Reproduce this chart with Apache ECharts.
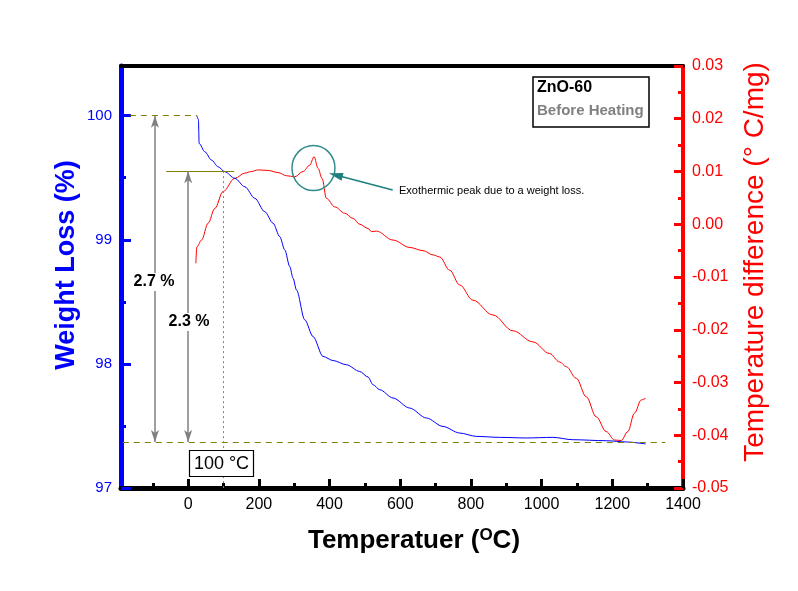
<!DOCTYPE html>
<html><head><meta charset="utf-8">
<script src="https://cdn.jsdelivr.net/npm/echarts@6/dist/echarts.min.js"></script>
<style>html,body{margin:0;padding:0;background:#fff}#c{width:798px;height:591px}</style>
</head><body><div id="c"></div>
<script>
// Weight loss (TGA) curve
const tgaTemp   = [24.6, 29, 31.1, 47.2, 66.2, 84.8, 103.8, 132.0, 160.3, 188.6, 216.8, 240.3, 259.2, 273.4, 287.5, 296.8, 306.4, 329.9, 353.4, 381.6, 409.9, 447.8, 485.4, 508.9, 523.0, 541.9, 579.5, 626.8, 674.0, 720.9, 768.1, 815.3, 881.2, 956.7, 1031.9, 1088.4, 1182.8, 1239.4, 1293.9];
const tgaWeight = [100.0, 99.97, 99.776, 99.709, 99.642, 99.588, 99.548, 99.495, 99.427, 99.334, 99.226, 99.133, 99.025, 98.918, 98.784, 98.690, 98.596, 98.355, 98.220, 98.060, 98.027, 97.993, 97.939, 97.894, 97.832, 97.792, 97.725, 97.644, 97.564, 97.496, 97.443, 97.416, 97.408, 97.403, 97.408, 97.389, 97.381, 97.371, 97.355];
// Temperature difference (DTA) curve
const dtaTemp = [21.8, 24.6, 37.9, 56.5, 75.5, 98.9, 132.0, 160.3, 179.2, 197.9, 226.2, 254.4, 278.2, 301.6, 325.1, 344.0, 356.2, 367.5, 378.8, 391.3, 414.7, 443.0, 466.5, 485.4, 508.9, 518.5, 532.6, 579.5, 626.8, 664.4, 692.6, 711.6, 739.8, 768.1, 805.7, 862.2, 918.8, 975.3, 1022.5, 1050.8, 1069.7, 1098.0, 1126.3, 1154.5, 1182.8, 1206.3, 1225.2, 1243.9, 1262.8, 1281.8, 1293.9];
const dtaDiff = [-0.0074, -0.0043, -0.0030, 0.0002, 0.0030, 0.0062, 0.0087, 0.0097, 0.0100, 0.0103, 0.0102, 0.0098, 0.0092, 0.0090, 0.0100, 0.0112, 0.0128, 0.0106, 0.0087, 0.0049, 0.0033, 0.0021, 0.0011, 0.0000, -0.0008, -0.0014, -0.0013, -0.0030, -0.0044, -0.0050, -0.0058, -0.0062, -0.0087, -0.0115, -0.0144, -0.0172, -0.0202, -0.0223, -0.0245, -0.0261, -0.0270, -0.0292, -0.0327, -0.0365, -0.0393, -0.0409, -0.0410, -0.0393, -0.0358, -0.0333, -0.0330];
// Tick labels
const xTickLabels = [0, 200, 400, 600, 800, 1000, 1200, 1400];
const xMinorTicks = [-100, 100, 300, 500, 700, 900, 1100, 1300];
const leftTickLabels = [97, 98, 99, 100];
const leftMinorTicks = [97.5, 98.5, 99.5];
const rightTickLabels = [0.03, 0.02, 0.01, 0.00, -0.01, -0.02, -0.03, -0.04, -0.05];
const rightMinorTicks = [0.025, 0.015, 0.005, -0.005, -0.015, -0.025, -0.035, -0.045];
// Annotation values
const initialWeight = 100.0;
const finalWeight = 97.37;
const weightAt100 = 99.553;
const peak = [354.5, 0.01066];

const FONT = 'Arial, "Liberation Sans", sans-serif';
const chart = echarts.init(document.getElementById('c'), null, {renderer: 'canvas'});
const tga = tgaTemp.map((t, i) => [t, tgaWeight[i]]);
const dta = dtaTemp.map((t, i) => [t, dtaDiff[i]]);
const XMIN = -190, XMAX = 1400;

chart.setOption({
  animation: false,
  backgroundColor: '#fff',
  grid: {left: 121, right: 115, top: 66, bottom: 103, containLabel: false},
  xAxis: [
    {type: 'value', position: 'bottom', min: XMIN, max: XMAX,
     axisLine: {onZero: false, lineStyle: {color: '#000', width: 5}},
     axisTick: {inside: true, length: 9, lineStyle: {color: '#000', width: 3}, customValues: xTickLabels},
     axisLabel: {customValues: xTickLabels, color: '#000', fontSize: 16, fontFamily: FONT, margin: 9, formatter: v => String(v)},
     splitLine: {show: false}},
    {type: 'value', position: 'bottom', min: XMIN, max: XMAX,
     axisLine: {show: false, onZero: false},
     axisTick: {inside: true, length: 5, lineStyle: {color: '#000', width: 3}, customValues: xMinorTicks},
     axisLabel: {show: false}, splitLine: {show: false}},
    {type: 'value', position: 'top', min: XMIN, max: XMAX,
     axisLine: {onZero: false, lineStyle: {color: '#000', width: 4}},
     axisTick: {show: false}, axisLabel: {show: false}, splitLine: {show: false}}
  ],
  yAxis: [
    {type: 'value', position: 'left', min: 97, max: 100.4,
     axisLine: {show: true, onZero: false, lineStyle: {color: '#0000ff', width: 5}},
     axisTick: {show: true, inside: true, length: 10, lineStyle: {color: '#0000ff', width: 3}, customValues: leftTickLabels},
     axisLabel: {customValues: leftTickLabels, color: '#0000ff', fontSize: 15, fontFamily: FONT, margin: 9},
     splitLine: {show: false}},
    {type: 'value', position: 'left', min: 97, max: 100.4,
     axisLine: {show: false, onZero: false},
     axisTick: {show: true, inside: true, length: 5, lineStyle: {color: '#0000ff', width: 3}, customValues: leftMinorTicks},
     axisLabel: {show: false}, splitLine: {show: false}},
    {type: 'value', position: 'right', min: -0.05, max: 0.03,
     axisLine: {show: true, onZero: false, lineStyle: {color: '#ff0000', width: 4}},
     axisTick: {show: true, inside: true, length: 9, lineStyle: {color: '#ff0000', width: 3}, customValues: rightTickLabels},
     axisLabel: {customValues: rightTickLabels, color: '#ff0000', fontSize: 16, fontFamily: FONT, margin: 9,
                 formatter: v => (Math.abs(v) < 1e-9 ? 0 : v).toFixed(2)},
     splitLine: {show: false}},
    {type: 'value', position: 'right', min: -0.05, max: 0.03,
     axisLine: {show: false, onZero: false},
     axisTick: {show: true, inside: true, length: 5, lineStyle: {color: '#ff0000', width: 3}, customValues: rightMinorTicks},
     axisLabel: {show: false}, splitLine: {show: false}}
  ],
  series: [
    {type: 'line', name: 'Weight', xAxisIndex: 0, yAxisIndex: 0, data: tga,
     showSymbol: false, smooth: 0.3, smoothMonotone: 'x',
     lineStyle: {color: '#0000ff', width: 1}, silent: true, z: 3,
     markLine: {silent: true, animation: false, label: {show: false}, symbol: 'none',
       data: [
         [{coord: [-165, initialWeight], lineStyle: {color: '#808000', type: [6, 5], width: 1.2}}, {coord: [25, initialWeight]}],
         [{coord: [-185, finalWeight], lineStyle: {color: '#808000', type: [6, 5], width: 1.2}}, {coord: [1350, finalWeight]}],
         [{coord: [-62, weightAt100], lineStyle: {color: '#808000', type: 'solid', width: 1.2}}, {coord: [130, weightAt100]}],
         [{coord: [100, weightAt100], lineStyle: {color: '#808080', type: [2, 3], width: 1}}, {coord: [100, 97]}],
         [{coord: [-94, initialWeight], symbol: 'arrow', symbolSize: [6, 12], lineStyle: {color: '#808080', type: 'solid', width: 1.5}},
          {coord: [-94, finalWeight], symbol: 'arrow', symbolSize: [6, 12]}],
         [{coord: [0, weightAt100], symbol: 'arrow', symbolSize: [6, 12], lineStyle: {color: '#808080', type: 'solid', width: 1.5}},
          {coord: [0, finalWeight], symbol: 'arrow', symbolSize: [6, 12]}]
       ]}},
    {type: 'line', name: 'DTA', xAxisIndex: 0, yAxisIndex: 2, data: dta,
     showSymbol: false, smooth: 0.35, smoothMonotone: 'x',
     lineStyle: {color: '#ff0000', width: 1}, silent: true, z: 2,
     markPoint: {silent: true, animation: false, label: {show: false},
       data: [{coord: peak, symbol: 'circle', symbolSize: [43, 45],
               itemStyle: {color: 'rgba(0,0,0,0)', borderColor: '#2f8b8b', borderWidth: 1.5}}]},
     markLine: {silent: true, animation: false, label: {show: false},
       data: [[{coord: [578.7, 0.00649], symbol: 'none', lineStyle: {color: '#1f7f7f', type: 'solid', width: 1.5}},
               {coord: [417.5, 0.00934], symbol: 'triangle', symbolSize: [8, 14]}]]}}
  ],
  graphic: [
    {type: 'text', x: 67, y: 265, rotation: Math.PI / 2,
     style: {text: 'Weight Loss (%)', fill: '#0000ff', font: 'bold 27px ' + FONT, align: 'center', verticalAlign: 'middle'}},
    {type: 'text', x: 755, y: 262, rotation: Math.PI / 2,
     style: {text: 'Temperature difference (° C/mg)', fill: '#ff0000', font: '28px ' + FONT, align: 'center', verticalAlign: 'middle'}},
    {type: 'text', x: 414, y: 541,
     style: {text: '{a|Temperatuer (}{b|O}{a|C)}', align: 'center', verticalAlign: 'middle',
             rich: {a: {fontSize: 26, fontWeight: 'bold', fontFamily: FONT, fill: '#000', lineHeight: 30},
                    b: {fontSize: 17, fontWeight: 'bold', fontFamily: FONT, fill: '#000', lineHeight: 30, padding: [0, 0, 12, 0]}}}},
    {type: 'text', x: 154, y: 282, z: 20,
     style: {text: '2.7 %', fill: '#000', font: 'bold 16px ' + FONT, align: 'center', verticalAlign: 'middle', backgroundColor: '#fff', padding: [1, 0]}},
    {type: 'text', x: 189, y: 322, z: 20,
     style: {text: '2.3 %', fill: '#000', font: 'bold 16px ' + FONT, align: 'center', verticalAlign: 'middle', backgroundColor: '#fff', padding: [1, 0]}},
    {type: 'rect', shape: {x: 189.5, y: 450.5, width: 64, height: 26}, style: {fill: '#fff', stroke: '#000', lineWidth: 1.2}, z: 10},
    {type: 'text', x: 221.5, y: 464, z: 11,
     style: {text: '100 °C', fill: '#000', font: '18px ' + FONT, align: 'center', verticalAlign: 'middle'}},
    {type: 'text', x: 399, y: 191,
     style: {text: 'Exothermic peak due to a weight loss.', fill: '#000', font: '11px ' + FONT, align: 'left', verticalAlign: 'middle'}},
    {type: 'rect', shape: {x: 533, y: 77, width: 116, height: 50}, style: {fill: '#fff', stroke: '#000', lineWidth: 1.5}, z: 10},
    {type: 'text', x: 537, y: 88, z: 11,
     style: {text: 'ZnO-60', fill: '#000', font: 'bold 16px ' + FONT, align: 'left', verticalAlign: 'middle'}},
    {type: 'text', x: 537, y: 111, z: 11,
     style: {text: 'Before Heating', fill: '#808080', font: 'bold 15px ' + FONT, align: 'left', verticalAlign: 'middle'}}
  ]
});
</script>
</body></html>
